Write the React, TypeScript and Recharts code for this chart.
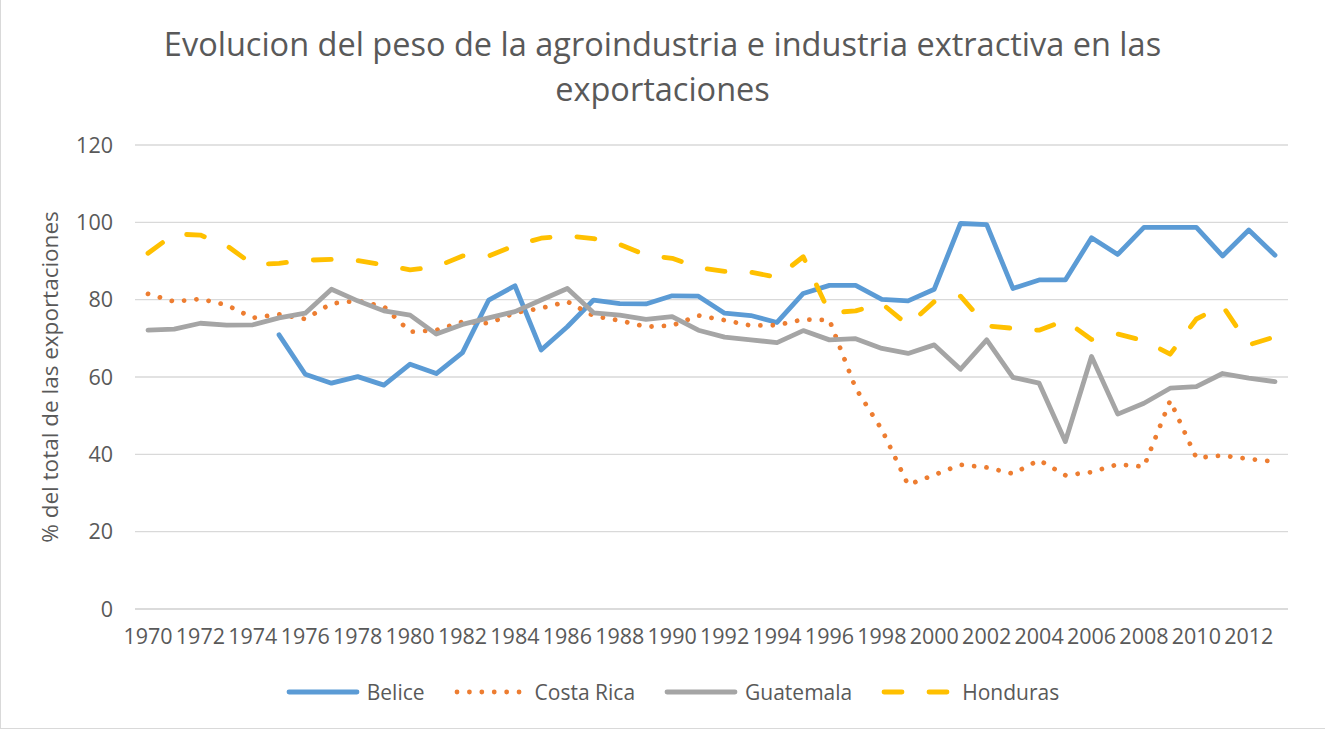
import { LineChart, Line, XAxis, YAxis, CartesianGrid } from 'recharts';

const years = [
  1970, 1971, 1972, 1973, 1974, 1975, 1976, 1977, 1978, 1979,
  1980, 1981, 1982, 1983, 1984, 1985, 1986, 1987, 1988, 1989,
  1990, 1991, 1992, 1993, 1994, 1995, 1996, 1997, 1998, 1999,
  2000, 2001, 2002, 2003, 2004, 2005, 2006, 2007, 2008, 2009,
  2010, 2011, 2012, 2013,
];

const belice = [
  null, null, null, null, null, 70.9, 60.7, 58.4, 60.1, 57.9,
  63.3, 60.9, 66.3, 79.9, 83.6, 67.0, 73.0, 79.9, 79.0, 78.9,
  81.0, 80.9, 76.5, 75.9, 74.1, 81.6, 83.7, 83.7, 80.1, 79.7,
  82.7, 99.7, 99.4, 82.9, 85.1, 85.1, 96.0, 91.7, 98.7, 98.7,
  98.7, 91.3, 98.0, 91.5,
];

const costaRica = [
  81.5, 79.5, 80.2, 78.6, 75.3, 76.2, 75.0, 79.0, 79.7, 78.2,
  71.7, 72.1, 74.3, 73.9, 76.6, 77.8, 79.5, 75.8, 74.6, 73.0,
  73.3, 75.9, 74.7, 73.3, 73.4, 74.9, 74.7, 57.1, 46.4, 32.1,
  34.7, 37.3, 36.6, 35.0, 38.5, 34.6, 35.4, 37.4, 36.8, 53.9,
  39.1, 39.7, 38.8, 38.1,
];

const guatemala = [
  72.1, 72.4, 73.9, 73.4, 73.5, 75.3, 76.5, 82.7, 79.7, 77.1,
  76.0, 71.1, 73.6, 75.3, 76.9, 79.9, 82.9, 76.6, 76.0, 74.9,
  75.6, 72.1, 70.3, 69.6, 68.9, 72.0, 69.6, 69.9, 67.4, 66.1,
  68.3, 62.0, 69.6, 59.9, 58.4, 43.3, 65.3, 50.4, 53.2, 57.1,
  57.5, 60.9, 59.7, 58.8,
];

const honduras = [
  92.0, 97.0, 96.7, 94.0, 89.1, 89.4, 90.2, 90.4, 90.1, 89.0,
  87.7, 88.5, 91.3, 91.3, 94.0, 95.9, 96.5, 95.8, 94.3, 91.5,
  90.7, 88.3, 87.3, 87.1, 85.8, 91.1, 76.6, 77.1, 79.0, 73.4,
  79.5, 80.9, 73.2, 72.6, 72.1, 74.6, 69.7, 71.1, 69.4, 65.9,
  75.0, 78.4, 68.3, 70.4,
];

const yTicks = [0, 20, 40, 60, 80, 100, 120];

const data = years.map((year, i) => ({
  year,
  Belice: belice[i],
  'Costa Rica': costaRica[i],
  Guatemala: guatemala[i],
  Honduras: honduras[i],
}));

const FONT = '"Open Sans", sans-serif';
const TEXT = '#595959';

// legend swatches, same styles as the series
const legendItems = [
  { name: 'Belice', color: '#5B9BD5', dash: undefined },
  { name: 'Costa Rica', color: '#ED7D31', dash: '0.01 12.4' },
  { name: 'Guatemala', color: '#A5A5A5', dash: undefined },
  { name: 'Honduras', color: '#FFC000', dash: '18 27' },
];

function ChartLegend() {
  return (
    <div style={{ position: 'absolute', left: 10, top: 678, width: 1325, display: 'flex', justifyContent: 'center', alignItems: 'center', fontFamily: FONT, fontSize: 21, color: TEXT }}>
      {legendItems.map((item, i) => (
        <div key={item.name} style={{ display: 'flex', alignItems: 'center', marginRight: i < legendItems.length - 1 ? 29 : 0 }}>
          <svg width={74} height={12}>
            <line x1={3} y1={6} x2={71} y2={6} stroke={item.color} strokeWidth={4.8}
              strokeLinecap="round" strokeDasharray={item.dash} />
          </svg>
          <span style={{ marginLeft: 7 }}>{item.name}</span>
        </div>
      ))}
    </div>
  );
}

export default function App() {
  return (
    <div style={{ position: 'absolute', left: 0, top: 0, width: 1325, height: 729, background: '#fff' }}>
      <div style={{ position: 'absolute', left: 0, top: 0, width: 1324, height: 728, borderLeft: '1px solid #d9d9d9', borderBottom: '1px solid #d9d9d9' }} />
      <div style={{ position: 'absolute', left: 0, top: 21, width: 1325, textAlign: 'center', fontFamily: FONT, fontSize: 32.5, lineHeight: '45px', color: TEXT }}>
        Evolucion del peso de la agroindustria e industria extractiva en las
        <br />
        exportaciones
      </div>
      <LineChart width={1325} height={729} data={data} margin={{ top: 145, right: 37, bottom: 90, left: 0 }}>
        <CartesianGrid vertical={false} stroke="#d9d9d9" strokeWidth={1.3} />
        <XAxis dataKey="year" interval={1} height={30} padding={{ left: 13, right: 13 }} tickLine={false}
          axisLine={{ stroke: '#d9d9d9', strokeWidth: 1.3 }}
          tick={{ fill: TEXT, fontSize: 21.5, fontFamily: FONT }} tickMargin={14} />
        <YAxis width={135} domain={[0, 120]} ticks={yTicks} axisLine={false} tickLine={false}
          tick={{ fill: TEXT, fontSize: 21.5, fontFamily: FONT }} tickMargin={16}
          label={{ value: '% del total de las exportaciones', angle: -90, position: 'center', dx: -17, fill: TEXT, fontSize: 22.5, fontFamily: FONT }} />
        <Line dataKey="Belice" stroke="#5B9BD5" strokeWidth={4.8} dot={false} isAnimationActive={false}
          strokeLinejoin="round" strokeLinecap="round" />
        <Line dataKey="Costa Rica" stroke="#ED7D31" strokeWidth={4.8} dot={false} isAnimationActive={false}
          strokeDasharray="0.01 12.4" strokeLinecap="round" />
        <Line dataKey="Guatemala" stroke="#A5A5A5" strokeWidth={4.8} dot={false} isAnimationActive={false}
          strokeLinejoin="round" strokeLinecap="round" />
        <Line dataKey="Honduras" stroke="#FFC000" strokeWidth={4.8} dot={false} isAnimationActive={false}
          strokeDasharray="18 27" strokeLinecap="round" strokeLinejoin="round" />
      </LineChart>
      <ChartLegend />
    </div>
  );
}
